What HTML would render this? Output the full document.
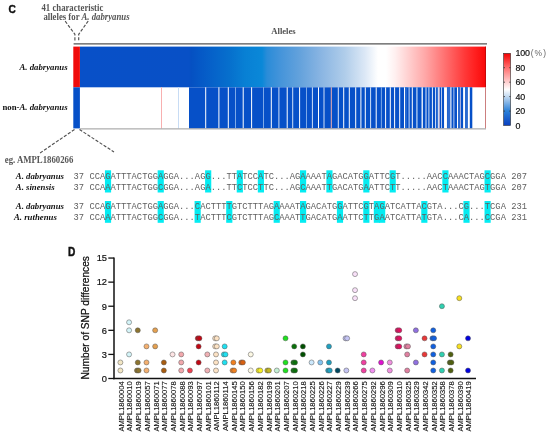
<!DOCTYPE html>
<html><head><meta charset="utf-8"><style>
html,body{margin:0;padding:0;background:#fff;width:550px;height:441px;overflow:hidden}
svg{display:block;filter:blur(0.3px)}
</style></head><body>
<svg width="550" height="441" viewBox="0 0 550 441">
<rect width="550" height="441" fill="#fff"/>
<defs>
<linearGradient id="tg" gradientUnits="userSpaceOnUse" x1="80" y1="0" x2="486" y2="0">
<stop offset="0.0000" stop-color="#0850c8"/>
<stop offset="0.2685" stop-color="#0850c6"/>
<stop offset="0.2734" stop-color="#0550c2"/>
<stop offset="0.2956" stop-color="#0558c6"/>
<stop offset="0.3325" stop-color="#0664ca"/>
<stop offset="0.3695" stop-color="#0670cd"/>
<stop offset="0.4064" stop-color="#0880d4"/>
<stop offset="0.4483" stop-color="#0a88d8"/>
<stop offset="0.4606" stop-color="#2a8cd8"/>
<stop offset="0.4926" stop-color="#4494da"/>
<stop offset="0.5419" stop-color="#64a2dc"/>
<stop offset="0.5911" stop-color="#88b4e2"/>
<stop offset="0.6527" stop-color="#b0cdea"/>
<stop offset="0.7020" stop-color="#dce8f6"/>
<stop offset="0.7340" stop-color="#ffffff"/>
<stop offset="0.7537" stop-color="#ffffff"/>
<stop offset="0.7759" stop-color="#fff0f0"/>
<stop offset="0.8005" stop-color="#ffd8d8"/>
<stop offset="0.8251" stop-color="#ffc0c0"/>
<stop offset="0.8498" stop-color="#ffa8a8"/>
<stop offset="0.8744" stop-color="#ff8c8c"/>
<stop offset="0.8990" stop-color="#ff7070"/>
<stop offset="0.9236" stop-color="#ff5454"/>
<stop offset="0.9483" stop-color="#ff3838"/>
<stop offset="0.9729" stop-color="#ff2020"/>
<stop offset="1.0000" stop-color="#f80808"/>
</linearGradient>
<linearGradient id="cb" x1="0" y1="1" x2="0" y2="0">
<stop offset="0" stop-color="#0a40c0"/>
<stop offset="0.2" stop-color="#2a80d8"/>
<stop offset="0.4" stop-color="#c0d8f0"/>
<stop offset="0.5" stop-color="#ffffff"/>
<stop offset="0.6" stop-color="#ffd0d0"/>
<stop offset="0.8" stop-color="#ff7070"/>
<stop offset="1" stop-color="#f40000"/>
</linearGradient>
</defs>
<line x1="73.6" y1="43.9" x2="487" y2="43.9" stroke="#555" stroke-width="1.3"/>
<rect x="79.9" y="46.6" width="406.0" height="40.699999999999996" fill="url(#tg)"/>
<rect x="73.3" y="46.6" width="6.6000000000000085" height="40.699999999999996" fill="#f00c0c"/>
<rect x="73.3" y="87.3" width="6.6000000000000085" height="41.10000000000001" fill="#0650c8"/>
<rect x="189" y="87.3" width="283.3" height="41.10000000000001" fill="#0650c8"/>
<rect x="205.20" y="87.3" width="1" height="41.10000000000001" fill="#fff"/>
<rect x="218.40" y="87.3" width="1" height="41.10000000000001" fill="#fff"/>
<rect x="227.80" y="87.3" width="1" height="41.10000000000001" fill="#fff"/>
<rect x="235.10" y="87.3" width="0.8" height="41.10000000000001" fill="#9cc0f0"/>
<rect x="242.70" y="87.3" width="1" height="41.10000000000001" fill="#fff"/>
<rect x="251.10" y="87.3" width="1" height="41.10000000000001" fill="#fff"/>
<rect x="263.20" y="87.3" width="0.8" height="41.10000000000001" fill="#9cc0f0"/>
<rect x="270.80" y="87.3" width="1" height="41.10000000000001" fill="#fff"/>
<rect x="278.40" y="87.3" width="1" height="41.10000000000001" fill="#cfe0f8"/>
<rect x="286.70" y="87.3" width="1" height="41.10000000000001" fill="#fff"/>
<rect x="292.20" y="87.3" width="1" height="41.10000000000001" fill="#cfe0f8"/>
<rect x="299.10" y="87.3" width="1" height="41.10000000000001" fill="#fff"/>
<rect x="306.10" y="87.3" width="0.8" height="41.10000000000001" fill="#9cc0f0"/>
<rect x="311.90" y="87.3" width="1" height="41.10000000000001" fill="#cfe0f8"/>
<rect x="318.00" y="87.3" width="1" height="41.10000000000001" fill="#fff"/>
<rect x="323.50" y="87.3" width="1" height="41.10000000000001" fill="#cfe0f8"/>
<rect x="330.80" y="87.3" width="1" height="41.10000000000001" fill="#f0b0b0"/>
<rect x="337.80" y="87.3" width="1" height="41.10000000000001" fill="#dde8fa"/>
<rect x="343.20" y="87.3" width="1" height="41.10000000000001" fill="#fff"/>
<rect x="348.80" y="87.3" width="1" height="41.10000000000001" fill="#fff"/>
<rect x="355.20" y="87.3" width="1" height="41.10000000000001" fill="#fff"/>
<rect x="360.40" y="87.3" width="1" height="41.10000000000001" fill="#fff"/>
<rect x="364.80" y="87.3" width="1" height="41.10000000000001" fill="#fff"/>
<rect x="370.10" y="87.3" width="1" height="41.10000000000001" fill="#cfe0f8"/>
<rect x="375.70" y="87.3" width="1" height="41.10000000000001" fill="#fff"/>
<rect x="380.90" y="87.3" width="0.8" height="41.10000000000001" fill="#9cc0f0"/>
<rect x="385.10" y="87.3" width="1" height="41.10000000000001" fill="#fff"/>
<rect x="389.80" y="87.3" width="1" height="41.10000000000001" fill="#fff"/>
<rect x="394.10" y="87.3" width="1" height="41.10000000000001" fill="#fff"/>
<rect x="399.20" y="87.3" width="1" height="41.10000000000001" fill="#fff"/>
<rect x="404.00" y="87.3" width="1" height="41.10000000000001" fill="#fff"/>
<rect x="405.25" y="87.3" width="1.5" height="41.10000000000001" fill="#3070d4"/>
<rect x="408.60" y="87.3" width="1" height="41.10000000000001" fill="#cfe0f8"/>
<rect x="411.80" y="87.3" width="1" height="41.10000000000001" fill="#fff"/>
<rect x="416.20" y="87.3" width="1.4" height="41.10000000000001" fill="#a8c8f0"/>
<rect x="421.55" y="87.3" width="1.3" height="41.10000000000001" fill="#fff"/>
<rect x="425.50" y="87.3" width="1" height="41.10000000000001" fill="#dde8fa"/>
<rect x="428.40" y="87.3" width="1" height="41.10000000000001" fill="#cfe0f8"/>
<rect x="431.90" y="87.3" width="1" height="41.10000000000001" fill="#eef4fc"/>
<rect x="435.10" y="87.3" width="1" height="41.10000000000001" fill="#dde8fa"/>
<rect x="437.80" y="87.3" width="1" height="41.10000000000001" fill="#fff"/>
<rect x="439.05" y="87.3" width="0.7" height="41.10000000000001" fill="#f0c8d0"/>
<rect x="441.20" y="87.3" width="0.8" height="41.10000000000001" fill="#dde8fa"/>
<rect x="444.05" y="87.3" width="2.9" height="41.10000000000001" fill="#fff"/>
<rect x="447.20" y="87.3" width="3.2" height="41.10000000000001" fill="#2a6ad0"/>
<rect x="450.35" y="87.3" width="1.1" height="41.10000000000001" fill="#fff"/>
<rect x="453.50" y="87.3" width="0.8" height="41.10000000000001" fill="#dde8fa"/>
<rect x="457.00" y="87.3" width="1" height="41.10000000000001" fill="#fff"/>
<rect x="458.00" y="87.3" width="1.6" height="41.10000000000001" fill="#2a6ad0"/>
<rect x="459.90" y="87.3" width="0.8" height="41.10000000000001" fill="#e8d8ec"/>
<rect x="463.10" y="87.3" width="1.9" height="41.10000000000001" fill="#fff"/>
<rect x="465.00" y="87.3" width="2.9" height="41.10000000000001" fill="#2a6ad0"/>
<rect x="467.90" y="87.3" width="1.9" height="41.10000000000001" fill="#fff"/>
<rect x="161" y="87.3" width="1" height="41.10000000000001" fill="#f8b0b0"/>
<rect x="178" y="87.3" width="1" height="41.10000000000001" fill="#c8dcf4"/>
<rect x="485.3" y="46.6" width="0.7" height="40.699999999999996" fill="#b00000"/>
<rect x="485.2" y="87.3" width="0.8" height="41.10000000000001" fill="#c06060"/>
<line x1="80" y1="128.9" x2="486" y2="128.9" stroke="#999" stroke-width="1"/>
<polyline points="65.2,21.2 74.9,34.3 74.9,42" stroke="#505050" stroke-width="1.15" stroke-dasharray="3.2,1.6" fill="none"/>
<polyline points="88.2,21 78.7,34.3 78.7,42" stroke="#505050" stroke-width="1.15" stroke-dasharray="3.2,1.6" fill="none"/>
<line x1="74.5" y1="129.5" x2="40" y2="153" stroke="#505050" stroke-width="1.15" stroke-dasharray="3.2,1.6" fill="none"/>
<line x1="79.5" y1="129.5" x2="114" y2="152" stroke="#505050" stroke-width="1.15" stroke-dasharray="3.2,1.6" fill="none"/>
<rect x="503.6" y="53.3" width="7" height="72.2" fill="url(#cb)" stroke="#333" stroke-width="0.6"/>
<line x1="503.6" y1="67.7" x2="505" y2="67.7" stroke="#333" stroke-width="0.8"/>
<line x1="509.2" y1="67.7" x2="510.6" y2="67.7" stroke="#333" stroke-width="0.8"/>
<line x1="503.6" y1="82.2" x2="505" y2="82.2" stroke="#333" stroke-width="0.8"/>
<line x1="509.2" y1="82.2" x2="510.6" y2="82.2" stroke="#333" stroke-width="0.8"/>
<line x1="503.6" y1="96.6" x2="505" y2="96.6" stroke="#333" stroke-width="0.8"/>
<line x1="509.2" y1="96.6" x2="510.6" y2="96.6" stroke="#333" stroke-width="0.8"/>
<line x1="503.6" y1="111.1" x2="505" y2="111.1" stroke="#333" stroke-width="0.8"/>
<line x1="509.2" y1="111.1" x2="510.6" y2="111.1" stroke="#333" stroke-width="0.8"/>
<text x="515.6" y="128.6" font-family='"Liberation Sans", sans-serif' font-size="8.9" letter-spacing="-0.25" fill="#111" stroke="#111" stroke-width="0.18">0</text>
<text x="515.6" y="114.2" font-family='"Liberation Sans", sans-serif' font-size="8.9" letter-spacing="-0.25" fill="#111" stroke="#111" stroke-width="0.18">20</text>
<text x="515.6" y="99.7" font-family='"Liberation Sans", sans-serif' font-size="8.9" letter-spacing="-0.25" fill="#111" stroke="#111" stroke-width="0.18">40</text>
<text x="515.6" y="85.3" font-family='"Liberation Sans", sans-serif' font-size="8.9" letter-spacing="-0.25" fill="#111" stroke="#111" stroke-width="0.18">60</text>
<text x="515.6" y="70.8" font-family='"Liberation Sans", sans-serif' font-size="8.9" letter-spacing="-0.25" fill="#111" stroke="#111" stroke-width="0.18">80</text>
<text x="515.6" y="56.4" font-family='"Liberation Sans", sans-serif' font-size="8.9" letter-spacing="-0.25" fill="#111" stroke="#111" stroke-width="0.18">100</text>
<text x="530.8" y="56.2" font-family='"Liberation Sans", sans-serif' font-size="8.4" fill="#666">(</text>
<text x="534.6" y="56.2" font-family='"Liberation Sans", sans-serif' font-size="8.4" fill="#666">%</text>
<text x="543.2" y="56.2" font-family='"Liberation Sans", sans-serif' font-size="8.4" fill="#666">)</text>
<text transform="translate(8.6,12.8) scale(0.86,1)" font-family='"Liberation Sans", sans-serif' font-size="11.8" font-weight="bold" fill="#111" stroke="#111" stroke-width="0.45">C</text>
<text transform="translate(41.5,10.6) scale(1,1.12)" font-family='"Liberation Serif", serif' font-size="8.75" font-weight="bold" fill="#555">41 characteristic</text>
<text transform="translate(43.4,20.4) scale(1,1.12)" font-family='"Liberation Serif", serif' font-size="8.75" font-weight="bold" fill="#555">alleles for <tspan font-style="italic">A. dabryanus</tspan></text>
<text x="271.3" y="33.6" font-family='"Liberation Serif", serif' font-size="8.6" font-weight="bold" fill="#505050">Alleles</text>
<text x="67.6" y="70.2" text-anchor="end" font-family='"Liberation Serif", serif' font-size="8.75" font-weight="bold" font-style="italic" fill="#111">A. dabryanus</text>
<text x="67.6" y="110.3" text-anchor="end" font-family='"Liberation Serif", serif' font-size="8.75" font-weight="bold" fill="#111">non-<tspan font-style="italic">A. dabryanus</tspan></text>
<text transform="translate(4.8,162.9) scale(1,1.13)" font-family='"Liberation Serif", serif' font-size="8.75" font-weight="bold" fill="#555">eg. AMPL1860266</text>
<rect x="104.93" y="170.3" width="6.17" height="22.2" fill="#04ecf2"/>
<rect x="157.65" y="170.3" width="6.17" height="22.2" fill="#04ecf2"/>
<rect x="205.10" y="170.3" width="6.17" height="22.2" fill="#04ecf2"/>
<rect x="236.73" y="170.3" width="6.17" height="22.2" fill="#04ecf2"/>
<rect x="257.82" y="170.3" width="6.17" height="22.2" fill="#04ecf2"/>
<rect x="300.00" y="170.3" width="6.17" height="22.2" fill="#04ecf2"/>
<rect x="326.36" y="170.3" width="6.17" height="22.2" fill="#04ecf2"/>
<rect x="363.26" y="170.3" width="6.17" height="22.2" fill="#04ecf2"/>
<rect x="389.62" y="170.3" width="6.17" height="22.2" fill="#04ecf2"/>
<rect x="442.34" y="170.3" width="6.17" height="22.2" fill="#04ecf2"/>
<rect x="484.52" y="170.3" width="6.17" height="22.2" fill="#04ecf2"/>
<rect x="104.93" y="201.0" width="6.17" height="21.8" fill="#04ecf2"/>
<rect x="157.65" y="201.0" width="6.17" height="21.8" fill="#04ecf2"/>
<rect x="194.56" y="201.0" width="6.17" height="21.8" fill="#04ecf2"/>
<rect x="226.19" y="201.0" width="6.17" height="21.8" fill="#04ecf2"/>
<rect x="273.64" y="201.0" width="6.17" height="21.8" fill="#04ecf2"/>
<rect x="300.00" y="201.0" width="6.17" height="21.8" fill="#04ecf2"/>
<rect x="336.90" y="201.0" width="6.17" height="21.8" fill="#04ecf2"/>
<rect x="363.26" y="201.0" width="6.17" height="21.8" fill="#04ecf2"/>
<rect x="373.80" y="201.0" width="6.17" height="21.8" fill="#04ecf2"/>
<rect x="379.08" y="201.0" width="6.17" height="21.8" fill="#04ecf2"/>
<rect x="421.25" y="201.0" width="6.17" height="21.8" fill="#04ecf2"/>
<rect x="463.43" y="201.0" width="6.17" height="21.8" fill="#04ecf2"/>
<rect x="484.52" y="201.0" width="6.17" height="21.8" fill="#04ecf2"/>
<text x="15.8" y="179.0" font-family='"Liberation Serif", serif' font-size="8.75" font-weight="bold" font-style="italic" fill="#111">A. dabryanus</text>
<text x="73.6" y="179.0" font-family='"Liberation Mono", monospace' font-size="8.787" fill="#606060" textLength="453.39" lengthAdjust="spacing">37 CCAGATTTACTGGAGGA...AGG...TTATCCATC...AGAAAATAGACATGGATTCGT.....AACCAAACTAGCGGA 207</text>
<text x="15.8" y="190.0" font-family='"Liberation Serif", serif' font-size="8.75" font-weight="bold" font-style="italic" fill="#111">A. sinensis</text>
<text x="73.6" y="190.0" font-family='"Liberation Mono", monospace' font-size="8.787" fill="#606060" textLength="453.39" lengthAdjust="spacing">37 CCAAATTTACTGGCGGA...AGA...TTCTCCTTC...AGCAAATTGACATGAATTCTT.....AACTAAACTAGTGGA 207</text>
<text x="15.8" y="209.2" font-family='"Liberation Serif", serif' font-size="8.75" font-weight="bold" font-style="italic" fill="#111">A. dabryanus</text>
<text x="73.6" y="209.2" font-family='"Liberation Mono", monospace' font-size="8.787" fill="#606060" textLength="453.39" lengthAdjust="spacing">37 CCAGATTTACTGGAGGA...CACTTTTGTCTTTAGAAAATAGACATGGATTCGTAGATCATTACGTA...CG...TCGA 231</text>
<text x="14.0" y="220.2" font-family='"Liberation Serif", serif' font-size="8.75" font-weight="bold" font-style="italic" fill="#111">A. ruthenus</text>
<text x="73.6" y="220.2" font-family='"Liberation Mono", monospace' font-size="8.787" fill="#606060" textLength="453.39" lengthAdjust="spacing">37 CCAAATTTACTGGCGGA...TACTTTCGTCTTTAGCAAATTGACATGAATTCTTGAATCATTATGTA...CA...CCGA 231</text>
<text transform="translate(67.9,255.6) scale(0.86,1.04)" font-family='"Liberation Sans", sans-serif' font-size="11.8" font-weight="bold" fill="#111" stroke="#111" stroke-width="0.45">D</text>
<line x1="114.0" y1="257.4" x2="114.0" y2="379.25" stroke="#111" stroke-width="1.5"/>
<line x1="113.25" y1="378.5" x2="476" y2="378.5" stroke="#111" stroke-width="1.5"/>
<line x1="108.3" y1="378.50" x2="114.0" y2="378.50" stroke="#111" stroke-width="1.3"/>
<text x="107" y="381.80" text-anchor="end" font-family='"Liberation Sans", sans-serif' font-size="9.3" fill="#111" stroke="#111" stroke-width="0.2">0</text>
<line x1="108.3" y1="354.41" x2="114.0" y2="354.41" stroke="#111" stroke-width="1.3"/>
<text x="107" y="357.71" text-anchor="end" font-family='"Liberation Sans", sans-serif' font-size="9.3" fill="#111" stroke="#111" stroke-width="0.2">3</text>
<line x1="108.3" y1="330.32" x2="114.0" y2="330.32" stroke="#111" stroke-width="1.3"/>
<text x="107" y="333.62" text-anchor="end" font-family='"Liberation Sans", sans-serif' font-size="9.3" fill="#111" stroke="#111" stroke-width="0.2">6</text>
<line x1="108.3" y1="306.23" x2="114.0" y2="306.23" stroke="#111" stroke-width="1.3"/>
<text x="107" y="309.53" text-anchor="end" font-family='"Liberation Sans", sans-serif' font-size="9.3" fill="#111" stroke="#111" stroke-width="0.2">9</text>
<line x1="108.3" y1="282.14" x2="114.0" y2="282.14" stroke="#111" stroke-width="1.3"/>
<text x="107" y="285.44" text-anchor="end" font-family='"Liberation Sans", sans-serif' font-size="9.3" fill="#111" stroke="#111" stroke-width="0.2">12</text>
<line x1="108.3" y1="258.05" x2="114.0" y2="258.05" stroke="#111" stroke-width="1.3"/>
<text x="107" y="261.35" text-anchor="end" font-family='"Liberation Sans", sans-serif' font-size="9.3" fill="#111" stroke="#111" stroke-width="0.2">15</text>
<text transform="translate(89.4,379.5) rotate(-90)" font-family='"Liberation Sans", sans-serif' font-size="10.18" fill="#111" stroke="#111" stroke-width="0.25">Number of SNP differences</text>
<text transform="translate(123.80,381.3) rotate(-90)" text-anchor="end" font-family='"Liberation Sans", sans-serif' font-size="7.6" fill="#111" stroke="#111" stroke-width="0.12">AMPL1860004</text>
<text transform="translate(132.49,381.3) rotate(-90)" text-anchor="end" font-family='"Liberation Sans", sans-serif' font-size="7.6" fill="#111" stroke="#111" stroke-width="0.12">AMPL1860010</text>
<text transform="translate(141.18,381.3) rotate(-90)" text-anchor="end" font-family='"Liberation Sans", sans-serif' font-size="7.6" fill="#111" stroke="#111" stroke-width="0.12">AMPL1860019</text>
<text transform="translate(149.87,381.3) rotate(-90)" text-anchor="end" font-family='"Liberation Sans", sans-serif' font-size="7.6" fill="#111" stroke="#111" stroke-width="0.12">AMPL1860057</text>
<text transform="translate(158.56,381.3) rotate(-90)" text-anchor="end" font-family='"Liberation Sans", sans-serif' font-size="7.6" fill="#111" stroke="#111" stroke-width="0.12">AMPL1860071</text>
<text transform="translate(167.25,381.3) rotate(-90)" text-anchor="end" font-family='"Liberation Sans", sans-serif' font-size="7.6" fill="#111" stroke="#111" stroke-width="0.12">AMPL1860077</text>
<text transform="translate(175.94,381.3) rotate(-90)" text-anchor="end" font-family='"Liberation Sans", sans-serif' font-size="7.6" fill="#111" stroke="#111" stroke-width="0.12">AMPL1860078</text>
<text transform="translate(184.63,381.3) rotate(-90)" text-anchor="end" font-family='"Liberation Sans", sans-serif' font-size="7.6" fill="#111" stroke="#111" stroke-width="0.12">AMPL1860088</text>
<text transform="translate(193.32,381.3) rotate(-90)" text-anchor="end" font-family='"Liberation Sans", sans-serif' font-size="7.6" fill="#111" stroke="#111" stroke-width="0.12">AMPL1860093</text>
<text transform="translate(202.01,381.3) rotate(-90)" text-anchor="end" font-family='"Liberation Sans", sans-serif' font-size="7.6" fill="#111" stroke="#111" stroke-width="0.12">AMPL1860097</text>
<text transform="translate(210.70,381.3) rotate(-90)" text-anchor="end" font-family='"Liberation Sans", sans-serif' font-size="7.6" fill="#111" stroke="#111" stroke-width="0.12">AMPL1860101</text>
<text transform="translate(219.39,381.3) rotate(-90)" text-anchor="end" font-family='"Liberation Sans", sans-serif' font-size="7.6" fill="#111" stroke="#111" stroke-width="0.12">AMPL1860112</text>
<text transform="translate(228.08,381.3) rotate(-90)" text-anchor="end" font-family='"Liberation Sans", sans-serif' font-size="7.6" fill="#111" stroke="#111" stroke-width="0.12">AMPL1860114</text>
<text transform="translate(236.77,381.3) rotate(-90)" text-anchor="end" font-family='"Liberation Sans", sans-serif' font-size="7.6" fill="#111" stroke="#111" stroke-width="0.12">AMPL1860145</text>
<text transform="translate(245.46,381.3) rotate(-90)" text-anchor="end" font-family='"Liberation Sans", sans-serif' font-size="7.6" fill="#111" stroke="#111" stroke-width="0.12">AMPL1860150</text>
<text transform="translate(254.15,381.3) rotate(-90)" text-anchor="end" font-family='"Liberation Sans", sans-serif' font-size="7.6" fill="#111" stroke="#111" stroke-width="0.12">AMPL1860156</text>
<text transform="translate(262.84,381.3) rotate(-90)" text-anchor="end" font-family='"Liberation Sans", sans-serif' font-size="7.6" fill="#111" stroke="#111" stroke-width="0.12">AMPL1860182</text>
<text transform="translate(271.53,381.3) rotate(-90)" text-anchor="end" font-family='"Liberation Sans", sans-serif' font-size="7.6" fill="#111" stroke="#111" stroke-width="0.12">AMPL1860199</text>
<text transform="translate(280.22,381.3) rotate(-90)" text-anchor="end" font-family='"Liberation Sans", sans-serif' font-size="7.6" fill="#111" stroke="#111" stroke-width="0.12">AMPL1860201</text>
<text transform="translate(288.91,381.3) rotate(-90)" text-anchor="end" font-family='"Liberation Sans", sans-serif' font-size="7.6" fill="#111" stroke="#111" stroke-width="0.12">AMPL1860207</text>
<text transform="translate(297.60,381.3) rotate(-90)" text-anchor="end" font-family='"Liberation Sans", sans-serif' font-size="7.6" fill="#111" stroke="#111" stroke-width="0.12">AMPL1860210</text>
<text transform="translate(306.29,381.3) rotate(-90)" text-anchor="end" font-family='"Liberation Sans", sans-serif' font-size="7.6" fill="#111" stroke="#111" stroke-width="0.12">AMPL1860218</text>
<text transform="translate(314.98,381.3) rotate(-90)" text-anchor="end" font-family='"Liberation Sans", sans-serif' font-size="7.6" fill="#111" stroke="#111" stroke-width="0.12">AMPL1860225</text>
<text transform="translate(323.67,381.3) rotate(-90)" text-anchor="end" font-family='"Liberation Sans", sans-serif' font-size="7.6" fill="#111" stroke="#111" stroke-width="0.12">AMPL1860226</text>
<text transform="translate(332.36,381.3) rotate(-90)" text-anchor="end" font-family='"Liberation Sans", sans-serif' font-size="7.6" fill="#111" stroke="#111" stroke-width="0.12">AMPL1860227</text>
<text transform="translate(341.05,381.3) rotate(-90)" text-anchor="end" font-family='"Liberation Sans", sans-serif' font-size="7.6" fill="#111" stroke="#111" stroke-width="0.12">AMPL1860229</text>
<text transform="translate(349.74,381.3) rotate(-90)" text-anchor="end" font-family='"Liberation Sans", sans-serif' font-size="7.6" fill="#111" stroke="#111" stroke-width="0.12">AMPL1860239</text>
<text transform="translate(358.43,381.3) rotate(-90)" text-anchor="end" font-family='"Liberation Sans", sans-serif' font-size="7.6" fill="#111" stroke="#111" stroke-width="0.12">AMPL1860266</text>
<text transform="translate(367.12,381.3) rotate(-90)" text-anchor="end" font-family='"Liberation Sans", sans-serif' font-size="7.6" fill="#111" stroke="#111" stroke-width="0.12">AMPL1860275</text>
<text transform="translate(375.81,381.3) rotate(-90)" text-anchor="end" font-family='"Liberation Sans", sans-serif' font-size="7.6" fill="#111" stroke="#111" stroke-width="0.12">AMPL1860292</text>
<text transform="translate(384.50,381.3) rotate(-90)" text-anchor="end" font-family='"Liberation Sans", sans-serif' font-size="7.6" fill="#111" stroke="#111" stroke-width="0.12">AMPL1860296</text>
<text transform="translate(393.19,381.3) rotate(-90)" text-anchor="end" font-family='"Liberation Sans", sans-serif' font-size="7.6" fill="#111" stroke="#111" stroke-width="0.12">AMPL1860309</text>
<text transform="translate(401.88,381.3) rotate(-90)" text-anchor="end" font-family='"Liberation Sans", sans-serif' font-size="7.6" fill="#111" stroke="#111" stroke-width="0.12">AMPL1860310</text>
<text transform="translate(410.57,381.3) rotate(-90)" text-anchor="end" font-family='"Liberation Sans", sans-serif' font-size="7.6" fill="#111" stroke="#111" stroke-width="0.12">AMPL1860325</text>
<text transform="translate(419.26,381.3) rotate(-90)" text-anchor="end" font-family='"Liberation Sans", sans-serif' font-size="7.6" fill="#111" stroke="#111" stroke-width="0.12">AMPL1860329</text>
<text transform="translate(427.95,381.3) rotate(-90)" text-anchor="end" font-family='"Liberation Sans", sans-serif' font-size="7.6" fill="#111" stroke="#111" stroke-width="0.12">AMPL1860342</text>
<text transform="translate(436.64,381.3) rotate(-90)" text-anchor="end" font-family='"Liberation Sans", sans-serif' font-size="7.6" fill="#111" stroke="#111" stroke-width="0.12">AMPL1860352</text>
<text transform="translate(445.33,381.3) rotate(-90)" text-anchor="end" font-family='"Liberation Sans", sans-serif' font-size="7.6" fill="#111" stroke="#111" stroke-width="0.12">AMPL1860358</text>
<text transform="translate(454.02,381.3) rotate(-90)" text-anchor="end" font-family='"Liberation Sans", sans-serif' font-size="7.6" fill="#111" stroke="#111" stroke-width="0.12">AMPL1860378</text>
<text transform="translate(462.71,381.3) rotate(-90)" text-anchor="end" font-family='"Liberation Sans", sans-serif' font-size="7.6" fill="#111" stroke="#111" stroke-width="0.12">AMPL1860390</text>
<text transform="translate(471.40,381.3) rotate(-90)" text-anchor="end" font-family='"Liberation Sans", sans-serif' font-size="7.6" fill="#111" stroke="#111" stroke-width="0.12">AMPL1860419</text>
<circle cx="120.40" cy="370.47" r="2.5" fill="#f2e6c4" stroke="#555" stroke-width="0.5"/>
<circle cx="120.40" cy="362.44" r="2.5" fill="#f2e6c4" stroke="#555" stroke-width="0.5"/>
<circle cx="129.09" cy="354.41" r="2.5" fill="#d4f4f8" stroke="#555" stroke-width="0.5"/>
<circle cx="129.09" cy="330.32" r="2.5" fill="#d4f4f8" stroke="#555" stroke-width="0.5"/>
<circle cx="129.09" cy="322.29" r="2.5" fill="#d4f4f8" stroke="#555" stroke-width="0.5"/>
<circle cx="136.98" cy="370.47" r="2.5" fill="#8c7430" stroke="#555" stroke-width="0.5"/>
<circle cx="138.58" cy="370.47" r="2.5" fill="#8c7430" stroke="#555" stroke-width="0.5"/>
<circle cx="137.78" cy="362.44" r="2.5" fill="#8c7430" stroke="#555" stroke-width="0.5"/>
<circle cx="137.78" cy="330.32" r="2.5" fill="#8c7430" stroke="#555" stroke-width="0.5"/>
<circle cx="146.47" cy="370.47" r="2.5" fill="#f4b070" stroke="#555" stroke-width="0.5"/>
<circle cx="146.47" cy="362.44" r="2.5" fill="#f4b070" stroke="#555" stroke-width="0.5"/>
<circle cx="146.47" cy="346.38" r="2.5" fill="#f4b070" stroke="#555" stroke-width="0.5"/>
<circle cx="155.16" cy="346.38" r="2.5" fill="#e4a050" stroke="#555" stroke-width="0.5"/>
<circle cx="155.16" cy="330.32" r="2.5" fill="#e4a050" stroke="#555" stroke-width="0.5"/>
<circle cx="163.85" cy="370.47" r="2.5" fill="#a85c10" stroke="#555" stroke-width="0.5"/>
<circle cx="163.85" cy="362.44" r="2.5" fill="#a85c10" stroke="#555" stroke-width="0.5"/>
<circle cx="172.54" cy="354.41" r="2.5" fill="#fde4e4" stroke="#555" stroke-width="0.5"/>
<circle cx="181.23" cy="370.47" r="2.5" fill="#f2a8ac" stroke="#555" stroke-width="0.5"/>
<circle cx="181.23" cy="362.44" r="2.5" fill="#f2a8ac" stroke="#555" stroke-width="0.5"/>
<circle cx="181.23" cy="354.41" r="2.5" fill="#f2a8ac" stroke="#555" stroke-width="0.5"/>
<circle cx="189.92" cy="370.47" r="2.5" fill="#f04050" stroke="#555" stroke-width="0.5"/>
<circle cx="198.61" cy="362.44" r="2.5" fill="#c00814" stroke="#555" stroke-width="0.5"/>
<circle cx="198.61" cy="346.38" r="2.5" fill="#c00814" stroke="#555" stroke-width="0.5"/>
<circle cx="197.81" cy="338.35" r="2.5" fill="#c00814" stroke="#555" stroke-width="0.5"/>
<circle cx="199.41" cy="338.35" r="2.5" fill="#c00814" stroke="#555" stroke-width="0.5"/>
<circle cx="207.30" cy="370.47" r="2.5" fill="#f0b0b4" stroke="#555" stroke-width="0.5"/>
<circle cx="207.30" cy="354.41" r="2.5" fill="#f0b0b4" stroke="#555" stroke-width="0.5"/>
<circle cx="215.99" cy="370.47" r="2.5" fill="#fce2c4" stroke="#555" stroke-width="0.5"/>
<circle cx="215.99" cy="362.44" r="2.5" fill="#fce2c4" stroke="#555" stroke-width="0.5"/>
<circle cx="215.99" cy="354.41" r="2.5" fill="#fce2c4" stroke="#555" stroke-width="0.5"/>
<circle cx="215.19" cy="346.38" r="2.5" fill="#fce2c4" stroke="#555" stroke-width="0.5"/>
<circle cx="216.79" cy="346.38" r="2.5" fill="#fce2c4" stroke="#555" stroke-width="0.5"/>
<circle cx="215.19" cy="338.35" r="2.5" fill="#fce2c4" stroke="#555" stroke-width="0.5"/>
<circle cx="216.79" cy="338.35" r="2.5" fill="#fce2c4" stroke="#555" stroke-width="0.5"/>
<circle cx="224.68" cy="362.44" r="2.5" fill="#20e0f0" stroke="#555" stroke-width="0.5"/>
<circle cx="223.88" cy="354.41" r="2.5" fill="#20e0f0" stroke="#555" stroke-width="0.5"/>
<circle cx="225.48" cy="354.41" r="2.5" fill="#20e0f0" stroke="#555" stroke-width="0.5"/>
<circle cx="224.68" cy="346.38" r="2.5" fill="#20e0f0" stroke="#555" stroke-width="0.5"/>
<circle cx="232.57" cy="370.47" r="2.5" fill="#f08020" stroke="#555" stroke-width="0.5"/>
<circle cx="234.17" cy="370.47" r="2.5" fill="#f08020" stroke="#555" stroke-width="0.5"/>
<circle cx="233.37" cy="362.44" r="2.5" fill="#f08020" stroke="#555" stroke-width="0.5"/>
<circle cx="241.26" cy="362.44" r="2.5" fill="#d86010" stroke="#555" stroke-width="0.5"/>
<circle cx="242.86" cy="362.44" r="2.5" fill="#d86010" stroke="#555" stroke-width="0.5"/>
<circle cx="250.75" cy="370.47" r="2.5" fill="#fcf8e4" stroke="#555" stroke-width="0.5"/>
<circle cx="250.75" cy="354.41" r="2.5" fill="#fcf8e4" stroke="#555" stroke-width="0.5"/>
<circle cx="258.64" cy="370.47" r="2.5" fill="#f8f020" stroke="#555" stroke-width="0.5"/>
<circle cx="260.24" cy="370.47" r="2.5" fill="#f8f020" stroke="#555" stroke-width="0.5"/>
<circle cx="267.33" cy="370.47" r="2.5" fill="#c4b820" stroke="#555" stroke-width="0.5"/>
<circle cx="268.93" cy="370.47" r="2.5" fill="#c4b820" stroke="#555" stroke-width="0.5"/>
<circle cx="276.82" cy="370.47" r="2.5" fill="#c4f0d4" stroke="#555" stroke-width="0.5"/>
<circle cx="285.51" cy="370.47" r="2.5" fill="#20e020" stroke="#555" stroke-width="0.5"/>
<circle cx="285.51" cy="362.44" r="2.5" fill="#20e020" stroke="#555" stroke-width="0.5"/>
<circle cx="285.51" cy="338.35" r="2.5" fill="#20e020" stroke="#555" stroke-width="0.5"/>
<circle cx="293.40" cy="370.47" r="2.5" fill="#0a700a" stroke="#555" stroke-width="0.5"/>
<circle cx="295.00" cy="370.47" r="2.5" fill="#0a700a" stroke="#555" stroke-width="0.5"/>
<circle cx="293.40" cy="362.44" r="2.5" fill="#0a700a" stroke="#555" stroke-width="0.5"/>
<circle cx="295.00" cy="362.44" r="2.5" fill="#0a700a" stroke="#555" stroke-width="0.5"/>
<circle cx="294.20" cy="346.38" r="2.5" fill="#0a700a" stroke="#555" stroke-width="0.5"/>
<circle cx="302.89" cy="354.41" r="2.5" fill="#005000" stroke="#555" stroke-width="0.5"/>
<circle cx="302.89" cy="346.38" r="2.5" fill="#005000" stroke="#555" stroke-width="0.5"/>
<circle cx="311.58" cy="362.44" r="2.5" fill="#cce8fc" stroke="#555" stroke-width="0.5"/>
<circle cx="320.27" cy="362.44" r="2.5" fill="#84c4f0" stroke="#555" stroke-width="0.5"/>
<circle cx="328.16" cy="370.47" r="2.5" fill="#20a0c0" stroke="#555" stroke-width="0.5"/>
<circle cx="329.76" cy="370.47" r="2.5" fill="#20a0c0" stroke="#555" stroke-width="0.5"/>
<circle cx="328.96" cy="362.44" r="2.5" fill="#20a0c0" stroke="#555" stroke-width="0.5"/>
<circle cx="328.96" cy="346.38" r="2.5" fill="#20a0c0" stroke="#555" stroke-width="0.5"/>
<circle cx="337.65" cy="370.47" r="2.5" fill="#004860" stroke="#555" stroke-width="0.5"/>
<circle cx="346.34" cy="370.47" r="2.5" fill="#c4c4f4" stroke="#555" stroke-width="0.5"/>
<circle cx="345.54" cy="338.35" r="2.5" fill="#c4c4f4" stroke="#555" stroke-width="0.5"/>
<circle cx="347.14" cy="338.35" r="2.5" fill="#c4c4f4" stroke="#555" stroke-width="0.5"/>
<circle cx="355.03" cy="298.20" r="2.5" fill="#f8e0f8" stroke="#555" stroke-width="0.5"/>
<circle cx="355.03" cy="290.17" r="2.5" fill="#f8e0f8" stroke="#555" stroke-width="0.5"/>
<circle cx="355.03" cy="274.11" r="2.5" fill="#f8e0f8" stroke="#555" stroke-width="0.5"/>
<circle cx="363.72" cy="370.47" r="2.5" fill="#f040a0" stroke="#555" stroke-width="0.5"/>
<circle cx="363.72" cy="362.44" r="2.5" fill="#f040a0" stroke="#555" stroke-width="0.5"/>
<circle cx="363.72" cy="354.41" r="2.5" fill="#f040a0" stroke="#555" stroke-width="0.5"/>
<circle cx="372.41" cy="370.47" r="2.5" fill="#f090f0" stroke="#555" stroke-width="0.5"/>
<circle cx="381.10" cy="362.44" r="2.5" fill="#e010d0" stroke="#555" stroke-width="0.5"/>
<circle cx="389.79" cy="370.47" r="2.5" fill="#f090e0" stroke="#555" stroke-width="0.5"/>
<circle cx="389.79" cy="362.44" r="2.5" fill="#f090e0" stroke="#555" stroke-width="0.5"/>
<circle cx="397.68" cy="346.38" r="2.5" fill="#e01060" stroke="#555" stroke-width="0.5"/>
<circle cx="399.28" cy="346.38" r="2.5" fill="#e01060" stroke="#555" stroke-width="0.5"/>
<circle cx="397.68" cy="338.35" r="2.5" fill="#e01060" stroke="#555" stroke-width="0.5"/>
<circle cx="399.28" cy="338.35" r="2.5" fill="#e01060" stroke="#555" stroke-width="0.5"/>
<circle cx="397.68" cy="330.32" r="2.5" fill="#e01060" stroke="#555" stroke-width="0.5"/>
<circle cx="399.28" cy="330.32" r="2.5" fill="#e01060" stroke="#555" stroke-width="0.5"/>
<circle cx="407.17" cy="370.47" r="2.5" fill="#e080a0" stroke="#555" stroke-width="0.5"/>
<circle cx="407.17" cy="354.41" r="2.5" fill="#e080a0" stroke="#555" stroke-width="0.5"/>
<circle cx="406.37" cy="346.38" r="2.5" fill="#e080a0" stroke="#555" stroke-width="0.5"/>
<circle cx="407.97" cy="346.38" r="2.5" fill="#e080a0" stroke="#555" stroke-width="0.5"/>
<circle cx="415.86" cy="362.44" r="2.5" fill="#9070e0" stroke="#555" stroke-width="0.5"/>
<circle cx="415.86" cy="330.32" r="2.5" fill="#9070e0" stroke="#555" stroke-width="0.5"/>
<circle cx="424.55" cy="354.41" r="2.5" fill="#e83838" stroke="#555" stroke-width="0.5"/>
<circle cx="424.55" cy="338.35" r="2.5" fill="#e83838" stroke="#555" stroke-width="0.5"/>
<circle cx="433.24" cy="370.47" r="2.5" fill="#1060e0" stroke="#555" stroke-width="0.5"/>
<circle cx="433.24" cy="362.44" r="2.5" fill="#1060e0" stroke="#555" stroke-width="0.5"/>
<circle cx="433.24" cy="354.41" r="2.5" fill="#1060e0" stroke="#555" stroke-width="0.5"/>
<circle cx="433.24" cy="346.38" r="2.5" fill="#1060e0" stroke="#555" stroke-width="0.5"/>
<circle cx="432.44" cy="338.35" r="2.5" fill="#1060e0" stroke="#555" stroke-width="0.5"/>
<circle cx="434.04" cy="338.35" r="2.5" fill="#1060e0" stroke="#555" stroke-width="0.5"/>
<circle cx="433.24" cy="330.32" r="2.5" fill="#1060e0" stroke="#555" stroke-width="0.5"/>
<circle cx="441.93" cy="370.47" r="2.5" fill="#30d0b0" stroke="#555" stroke-width="0.5"/>
<circle cx="441.93" cy="354.41" r="2.5" fill="#30d0b0" stroke="#555" stroke-width="0.5"/>
<circle cx="441.93" cy="306.23" r="2.5" fill="#30d0b0" stroke="#555" stroke-width="0.5"/>
<circle cx="450.62" cy="370.47" r="2.5" fill="#506010" stroke="#555" stroke-width="0.5"/>
<circle cx="449.82" cy="362.44" r="2.5" fill="#506010" stroke="#555" stroke-width="0.5"/>
<circle cx="451.42" cy="362.44" r="2.5" fill="#506010" stroke="#555" stroke-width="0.5"/>
<circle cx="450.62" cy="354.41" r="2.5" fill="#506010" stroke="#555" stroke-width="0.5"/>
<circle cx="459.31" cy="346.38" r="2.5" fill="#f8e020" stroke="#555" stroke-width="0.5"/>
<circle cx="459.31" cy="298.20" r="2.5" fill="#f8e020" stroke="#555" stroke-width="0.5"/>
<circle cx="468.00" cy="370.47" r="2.5" fill="#0000e0" stroke="#555" stroke-width="0.5"/>
<circle cx="468.00" cy="338.35" r="2.5" fill="#0000e0" stroke="#555" stroke-width="0.5"/>
</svg>
</body></html>
